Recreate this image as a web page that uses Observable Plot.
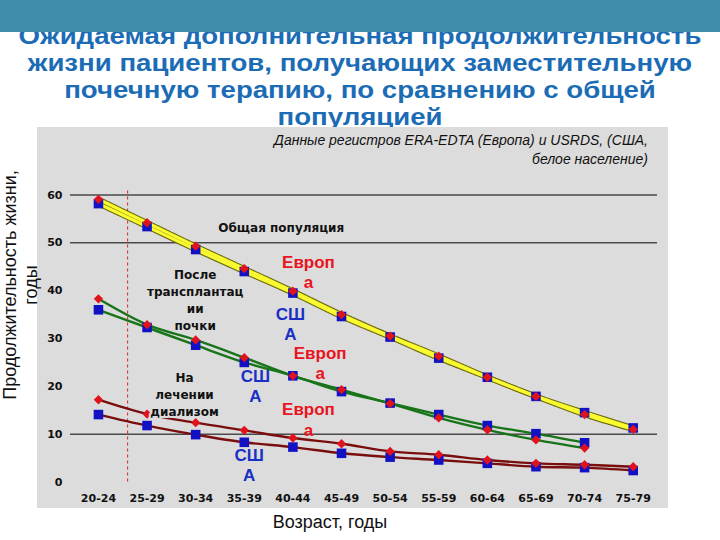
<!DOCTYPE html>
<html>
<head>
<meta charset="utf-8">
<script src="https://cdn.jsdelivr.net/npm/d3@7"></script>
<script src="https://cdn.jsdelivr.net/npm/@observablehq/plot@0.6"></script>
<style>
  body { margin:0; width:720px; height:540px; position:relative; overflow:hidden; background:#fff; font-family:"Liberation Sans", Arial, sans-serif; }
  .abs { position:absolute; }
  #band { left:0; top:0; width:720px; height:32px; background:#3f8ca9; z-index:2; }
  #title { left:0; top:22.5px; width:720px; text-align:center; font-weight:bold; font-size:23px; line-height:27px; color:#1b6cb5; z-index:1; white-space:nowrap; transform:scaleX(1.2); transform-origin:360px 0; }
  #panel { left:37px; top:127px; width:631px; height:381px; background:#dcdcdc; z-index:3; }
  #subtitle { right:72px; top:131px; text-align:right; font-style:italic; font-size:14px; line-height:19px; color:#111; z-index:4; white-space:nowrap; }
  #chart { left:0; top:165px; z-index:5; }
  #ytitle { left:-108px; top:263px; width:260px; height:44px; text-align:center; font-size:18px; line-height:21px; color:#111; transform:rotate(-90deg); z-index:6; white-space:nowrap; }
  #xtitle { left:230px; top:512px; width:200px; text-align:center; font-size:18px; line-height:21px; color:#111; z-index:6; }
</style>
</head>
<body>
<div id="title" class="abs">Ожидаемая дополнительная продолжительность<br>жизни пациентов, получающих заместительную<br>почечную терапию, по сравнению с общей<br>популяцией</div>
<div id="band" class="abs"></div>
<div id="panel" class="abs"></div>
<div id="subtitle" class="abs">Данные регистров ERA-EDTA (Европа) и USRDS, (США,<br>белое население)</div>
<div id="chart" class="abs"></div>
<div id="ytitle" class="abs">Продолжительность жизни,<br>годы</div>
<div id="xtitle" class="abs">Возраст, годы</div>
<script>
const ageGroups = ["20-24","25-29","30-34","35-39","40-44","45-49","50-54","55-59","60-64","65-69","70-74","75-79"];
const yTicks = [0, 10, 20, 30, 40, 50, 60];
const gridValues = [10, 50, 60];

const generalEurope    = [59.1, 54.2, 49.3, 44.6, 39.9, 35.0, 30.5, 26.3, 21.9, 17.9, 14.1, 11.0];
const generalUSA       = [58.2, 53.4, 48.6, 44.0, 39.5, 34.6, 30.3, 25.9, 21.9, 17.9, 14.5, 11.3];
const transplantEurope = [38.3, 32.9, 29.7, 26.0, 22.2, 19.3, 16.4, 13.4, 10.9, 8.8, 7.1, null];
const transplantUSA    = [36.0, 32.3, 28.6, 25.0, 22.2, 18.9, 16.5, 14.1, 11.8, 10.1, 8.2, null];
const dialysisEurope   = [17.2, 14.2, 12.4, 10.8, 9.2, 8.0, 6.4, 5.7, 4.6, 3.9, 3.6, 3.2];
const dialysisUSA      = [14.1, 11.8, 9.9, 8.3, 7.3, 6.0, 5.2, 4.6, 3.9, 3.2, 3.0, 2.4];

const seriesList = [
  {group: "general", region: "Europe", values: generalEurope},
  {group: "general", region: "USA", values: generalUSA},
  {group: "transplant", region: "Europe", values: transplantEurope},
  {group: "transplant", region: "USA", values: transplantUSA},
  {group: "dialysis", region: "Europe", values: dialysisEurope},
  {group: "dialysis", region: "USA", values: dialysisUSA}
];
const rows = seriesList.flatMap(s => s.values.map((v, i) => ({group: s.group, region: s.region, key: s.group + s.region, i, v})))
  .filter(d => d.v != null);

const lineColor = {transplant: "#187418", dialysis: "#7a0e0e"};

const annotations = [
  {x: 3.76, y: 53.4, text: "Общая популяция"},
  {x: 1.99, y: 38.2, text: "После\nтрансплантац\nии\nпочки"},
  {x: 1.77, y: 18.5, text: "На\nлечении\nдиализом"}
];
const regionLabels = [
  {x: 4.32, y: 44.0, text: "Европ\nа", region: "Europe"},
  {x: 3.95, y: 33.2, text: "СШ\nА", region: "USA"},
  {x: 4.56, y: 25.0, text: "Европ\nа", region: "Europe"},
  {x: 3.23, y: 20.2, text: "СШ\nА", region: "USA"},
  {x: 4.32, y: 13.2, text: "Европ\nа", region: "Europe"},
  {x: 3.10, y: 3.7, text: "СШ\nА", region: "USA"}
];
const dialysisStartLine = 0.6;

const general = rows.filter(d => d.group === "general");
const others = rows.filter(d => d.group !== "general");

const chart = Plot.plot({
  width: 720,
  height: 345,
  marginLeft: 70,
  marginRight: 63,
  marginTop: 29.5,
  marginBottom: 28.5,
  style: {background: "transparent", overflow: "visible", fontFamily: "DejaVu Sans, sans-serif"},
  x: {domain: [-0.575, 11.5]},
  y: {domain: [0, 60]},
  marks: [
    Plot.ruleY(gridValues, {stroke: "#000", strokeWidth: 1}),
    Plot.ruleX([dialysisStartLine], {y1: 0, y2: 61, stroke: "#e02020", strokeWidth: 1, strokeDasharray: "3,3"}),
    Plot.line(general, {x: "i", y: "v", z: "key", stroke: "#6d6d10", strokeWidth: 5.5, curve: "catmull-rom", strokeDasharray: "1.5,1"}),
    Plot.line(general, {x: "i", y: "v", z: "key", stroke: "#fafa30", strokeWidth: 3.2, curve: "catmull-rom"}),
    Plot.line(others, {x: "i", y: "v", z: "key", stroke: d => lineColor[d.group], strokeWidth: 2.4, curve: "catmull-rom"}),
    Plot.dot(rows.filter(d => d.region === "USA"), {x: "i", y: "v", symbol: "square", r: 5.4, fill: "#1212c4", stroke: null}),
    Plot.dot(rows.filter(d => d.region === "Europe"), {x: "i", y: "v", symbol: "diamond2", r: 4.2, fill: "#e0121c", stroke: null}),
    Plot.axisX(d3.range(ageGroups.length), {tickSize: 0, tickPadding: 12, tickFormat: i => ageGroups[i], fontWeight: "bold", fontSize: 11, fill: "#111"}),
    Plot.axisY(yTicks, {tickSize: 0, tickPadding: 8, fontWeight: "bold", fontSize: 11, fill: "#111"}),
    Plot.text(annotations, {x: "x", y: "y", text: "text", fontWeight: "bold", fontSize: 12, lineHeight: 1.4, fill: "#111", stroke: "#dcdcdc", strokeWidth: 4, paintOrder: "stroke", fontFamily: "DejaVu Sans, sans-serif"}),
    Plot.text(regionLabels, {x: "x", y: "y", text: "text", fontWeight: "bold", fontSize: 17, lineHeight: 1.2, fill: d => d.region === "Europe" ? "#e8141e" : "#1a2fc4", fontFamily: "Liberation Sans, Arial, sans-serif"})
  ]
});
document.getElementById("chart").appendChild(chart);
</script>
</body>
</html>
